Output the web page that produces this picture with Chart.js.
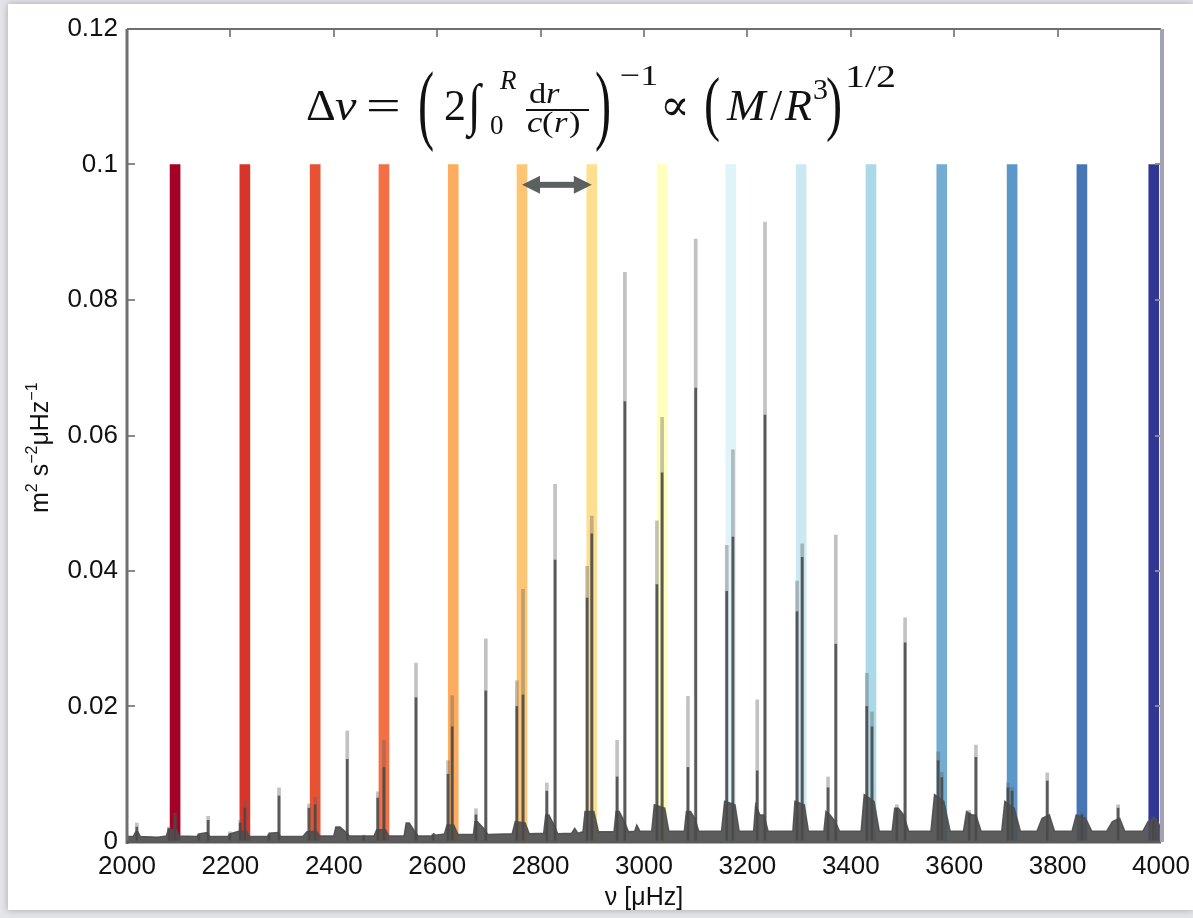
<!DOCTYPE html>
<html>
<head>
<meta charset="utf-8">
<script src="https://cdn.jsdelivr.net/npm/chart.js@4.4.1/dist/chart.umd.min.js"></script>
<style>
  html, body { margin: 0; padding: 0; width: 1193px; height: 918px; overflow: hidden; background: #e3e5e8; }
  #panel { position: absolute; left: 8px; top: 4px; width: 1185px; height: 906px; background: #fff; box-shadow: 0 0 7px rgba(0,0,0,0.28); }
  #wrap { position: absolute; left: 0; top: 0; width: 1193px; height: 918px; }
</style>
</head>
<body>
<div id="panel"></div>
<div id="wrap"><canvas id="c" width="1193" height="918"></canvas></div>
<script>
// Radial orders: large-separation markers (µHz)
const bandFreq = [2093, 2228, 2364, 2497, 2631, 2764, 2899, 3035, 3168, 3304, 3439, 3576, 3712, 3847, 3986];
const bandTop = 0.1;
const bandColors = ['#a50026', '#d7342a', '#e85233', '#f46f45', '#fdac60', '#fec674', '#fedf8f', '#ffffbd',
                    '#e0f3f8', '#cbe9f3', '#abd9e9', '#74add1', '#5d97c8', '#4676b6', '#313694'];

// Individual p-mode peaks: frequency (µHz), envelope maximum and core power (m² s⁻² µHz⁻¹)
const peakFreq = [2019, 2081, 2093, 2139, 2157, 2199, 2219, 2228, 2275, 2294, 2352, 2364, 2426, 2458, 2485, 2497,
                  2559, 2592, 2621, 2629, 2675, 2694, 2754, 2766, 2812, 2828, 2890, 2899, 2948, 2963, 3025, 3035,
                  3085, 3100, 3160, 3172, 3219, 3234, 3296, 3306, 3356, 3371, 3431, 3441, 3489, 3505, 3569, 3576,
                  3629, 3642, 3704, 3712, 3780, 3847, 3917, 3985];
const peakTop  = [0.0028, 0.0022, 0.0043, 0.0012, 0.0038, 0.0015, 0.0032, 0.0062, 0.0012, 0.0080, 0.0056, 0.0066, 0.0164, 0.0010, 0.0074, 0.0150,
                  0.0264, 0.0012, 0.0120, 0.0216, 0.0049, 0.0300, 0.0238, 0.0373, 0.0087, 0.0528, 0.0407, 0.0481, 0.0150, 0.0841, 0.0474, 0.0627,
                  0.0215, 0.0890, 0.0438, 0.0579, 0.0210, 0.0915, 0.0385, 0.0440, 0.0096, 0.0453, 0.0249, 0.0192, 0.0055, 0.0331, 0.0133, 0.0103,
                  0.0047, 0.0143, 0.0087, 0.0081, 0.0102, 0.0043, 0.0055, 0.0037];
const peakCore = [0.0022, 0.0020, 0.0038, 0.0010, 0.0032, 0.0012, 0.0028, 0.0050, 0.0010, 0.0068, 0.0050, 0.0055, 0.0122, 0.0009, 0.0065, 0.0110,
                  0.0213, 0.0010, 0.0100, 0.0170, 0.0040, 0.0223, 0.0200, 0.0217, 0.0075, 0.0416, 0.0360, 0.0455, 0.0096, 0.0650, 0.0380, 0.0545,
                  0.0110, 0.0670, 0.0370, 0.0450, 0.0105, 0.0630, 0.0340, 0.0420, 0.0080, 0.0292, 0.0200, 0.0170, 0.0050, 0.0294, 0.0120, 0.0095,
                  0.0042, 0.0125, 0.0080, 0.0075, 0.0090, 0.0040, 0.0050, 0.0033];

// Background noise floor with the broad bases of the mode clusters
const floorFreq = [2000, 2012, 2017, 2021, 2026, 2060, 2076, 2080, 2096, 2100, 2135, 2139, 2155, 2160, 2195, 2199,
                   2216, 2231, 2236, 2272, 2275, 2292, 2297, 2340, 2348, 2367, 2372, 2400, 2404, 2412, 2424, 2430,
                   2478, 2483, 2500, 2506, 2536, 2540, 2546, 2556, 2563, 2590, 2593, 2597, 2614, 2619, 2632, 2640,
                   2670, 2673, 2678, 2692, 2698, 2745, 2751, 2770, 2778, 2806, 2810, 2816, 2826, 2833, 2860, 2866,
                   2872, 2882, 2886, 2903, 2912, 2942, 2946, 2952, 2962, 2970, 2982, 2986, 2992, 3015, 3020, 3040,
                   3048, 3078, 3082, 3090, 3098, 3106, 3150, 3156, 3176, 3184, 3212, 3216, 3224, 3232, 3240, 3288,
                   3292, 3310, 3318, 3348, 3352, 3360, 3370, 3378, 3420, 3426, 3445, 3455, 3480, 3485, 3492, 3502,
                   3512, 3555, 3562, 3580, 3592, 3618, 3624, 3634, 3642, 3652, 3692, 3698, 3716, 3728, 3760, 3770,
                   3784, 3794, 3828, 3836, 3854, 3866, 3895, 3906, 3920, 3930, 3965, 3975, 3990, 4000];
const floorPower = [0.0008, 0.0008, 0.0015, 0.0015, 0.0008, 0.0007, 0.0009, 0.0018, 0.0018, 0.0009, 0.0008, 0.0012, 0.0014, 0.0008, 0.0008, 0.0012,
                    0.0016, 0.0016, 0.0008, 0.0008, 0.0013, 0.0014, 0.0008, 0.0008, 0.0015, 0.0016, 0.0009, 0.0009, 0.0022, 0.0022, 0.0014, 0.0009,
                    0.0009, 0.0018, 0.0018, 0.0009, 0.0009, 0.0028, 0.0028, 0.0016, 0.0009, 0.0009, 0.0012, 0.0010, 0.0012, 0.0025, 0.0025, 0.0011,
                    0.0011, 0.0030, 0.0030, 0.0018, 0.0011, 0.0012, 0.0030, 0.0028, 0.0012, 0.0013, 0.0040, 0.0040, 0.0025, 0.0012, 0.0013, 0.0020,
                    0.0013, 0.0015, 0.0045, 0.0045, 0.0015, 0.0015, 0.0045, 0.0045, 0.0030, 0.0015, 0.0016, 0.0025, 0.0016, 0.0016, 0.0055, 0.0050,
                    0.0016, 0.0016, 0.0045, 0.0045, 0.0035, 0.0016, 0.0016, 0.0060, 0.0055, 0.0016, 0.0016, 0.0055, 0.0040, 0.0040, 0.0016, 0.0016,
                    0.0060, 0.0055, 0.0016, 0.0016, 0.0045, 0.0040, 0.0030, 0.0016, 0.0016, 0.0070, 0.0060, 0.0016, 0.0016, 0.0050, 0.0050, 0.0040,
                    0.0016, 0.0016, 0.0070, 0.0060, 0.0016, 0.0016, 0.0045, 0.0040, 0.0040, 0.0016, 0.0016, 0.0060, 0.0050, 0.0016, 0.0016, 0.0035,
                    0.0040, 0.0016, 0.0016, 0.0040, 0.0035, 0.0016, 0.0016, 0.0030, 0.0035, 0.0016, 0.0016, 0.0030, 0.0035, 0.0020];

// Axes
const xTickValues = [2000, 2200, 2400, 2600, 2800, 3000, 3200, 3400, 3600, 3800, 4000];
const xTickLabels = ['2000', '2200', '2400', '2600', '2800', '3000', '3200', '3400', '3600', '3800', '4000'];
const yTickValues = [0, 0.02, 0.04, 0.06, 0.08, 0.1, 0.12];
const yTickLabels = ['0', '0.02', '0.04', '0.06', '0.08', '0.1', '0.12'];
const arrowLevel = 0.097;

const SANS = '"Liberation Sans", Arial, Helvetica, sans-serif';
const SERIF = '"Liberation Serif", "DejaVu Serif", serif';

// Box, inward ticks, y-axis label, Δν arrow and formula
const decorations = {
  id: 'decorations',
  afterDraw(chart) {
    const ctx = chart.ctx;
    const a = chart.chartArea;
    const xs = chart.scales.x, ys = chart.scales.y;

    ctx.save();
    // inward tick marks
    ctx.strokeStyle = '#8a8a8a';
    ctx.lineWidth = 2;
    xTickValues.forEach(v => {
      const px = Math.round(xs.getPixelForValue(v));
      ctx.beginPath(); ctx.moveTo(px, a.top); ctx.lineTo(px, a.top + 8); ctx.stroke();
    });
    yTickValues.forEach(v => {
      const py = Math.round(ys.getPixelForValue(v));
      ctx.beginPath(); ctx.moveTo(a.left, py); ctx.lineTo(a.left + 8, py); ctx.stroke();
      ctx.beginPath(); ctx.moveTo(a.right, py); ctx.lineTo(a.right - 6, py); ctx.stroke();
    });
    // box
    ctx.lineWidth = 3;
    ctx.strokeStyle = '#6e6e6e';
    ctx.beginPath(); ctx.moveTo(a.left, a.top); ctx.lineTo(a.left, a.bottom + 2); ctx.stroke();
    ctx.lineWidth = 2;
    ctx.beginPath(); ctx.moveTo(a.left, a.top); ctx.lineTo(a.right, a.top); ctx.stroke();
    ctx.strokeStyle = '#5a5a5a';
    ctx.lineWidth = 3;
    ctx.beginPath(); ctx.moveTo(a.left, a.bottom); ctx.lineTo(a.right, a.bottom); ctx.stroke();
    ctx.strokeStyle = '#a2a3b6';
    ctx.lineWidth = 4;
    ctx.beginPath(); ctx.moveTo(a.right + 1, a.top); ctx.lineTo(a.right + 1, a.bottom); ctx.stroke();

    // Δν arrow between two consecutive markers
    const x1 = xs.getPixelForValue(bandFreq[5]);
    const x2 = xs.getPixelForValue(bandFreq[6]);
    const ya = ys.getPixelForValue(arrowLevel);
    const head = 18, half = 9;
    ctx.fillStyle = '#5b6060';
    ctx.fillRect(x1 + head - 1, ya - 3, (x2 - x1) - 2 * head + 2, 6);
    ctx.beginPath(); ctx.moveTo(x1, ya); ctx.lineTo(x1 + head, ya - half); ctx.lineTo(x1 + head, ya + half); ctx.closePath(); ctx.fill();
    ctx.beginPath(); ctx.moveTo(x2, ya); ctx.lineTo(x2 - head, ya - half); ctx.lineTo(x2 - head, ya + half); ctx.closePath(); ctx.fill();

    // y-axis label: m² s⁻² µHz⁻¹
    ctx.save();
    ctx.translate(48, 513);
    ctx.rotate(-Math.PI / 2);
    ctx.fillStyle = '#111';
    ctx.textBaseline = 'alphabetic';
    let cx = 0;
    const run = (t, size, dy) => {
      ctx.font = size + 'px ' + SANS;
      ctx.fillText(t, cx, dy);
      cx += ctx.measureText(t).width;
    };
    run('m', 25, 0); run('2', 16, -11); run(' s', 25, 0); run('\u22122', 16, -11);
    run('\u03bcHz', 25, 0); run('\u22121', 16, -11);
    ctx.restore();

    // formula: Δν = (2∫₀ᴿ dr / c(r))⁻¹ ∝ (M/R³)^(1/2)
    ctx.fillStyle = '#111';
    ctx.textBaseline = 'alphabetic';
    const put = (t, x, y, size, italic, sy, sx) => {
      ctx.save();
      ctx.font = (italic ? 'italic ' : '') + size + 'px ' + SERIF;
      ctx.translate(x, y);
      ctx.scale(sx || 1, sy || 1);
      ctx.fillText(t, 0, 0);
      ctx.restore();
    };
    put('\u0394', 306, 120, 44, false, 1, 1.05);
    put('\u03bd', 335, 120, 44, true, 1, 1.1);
    put('=', 366, 120, 44, false, 1, 1.4);
    put('(', 418, 133, 44, false, 2.0, 1.1);
    put('2', 444, 120, 44, false);
    put('\u222b', 468, 124, 46, true, 1.25);
    put('0', 490, 134, 27, false);
    put('R', 500, 89, 27, true);
    put('d', 529, 103, 30, false, 1, 1.15);
    put('r', 546, 103, 30, true, 1, 1.15);
    ctx.fillRect(526, 109, 63, 2);
    put('c', 527, 132, 30, true, 1, 1.15);
    put('(', 542, 132, 30, false, 1, 1.15);
    put('r', 554, 132, 30, true, 1, 1.15);
    put(')', 569, 132, 30, false, 1, 1.15);
    put(')', 595, 133, 44, false, 2.0, 1.1);
    put('\u22121', 620, 85, 30, false, 1, 1.2);
    put('\u221d', 660, 120, 44, false);
    put('(', 704, 127, 44, false, 1.65, 1.1);
    put('M', 727, 120, 44, true, 1, 1.05);
    put('/', 770, 120, 44, false);
    put('R', 785, 120, 44, true);
    put('3', 813, 99, 30, false);
    put(')', 826, 127, 44, false, 1.65, 1.1);
    put('1/2', 845, 87, 32, false, 1, 1.25);
    ctx.restore();
  }
};

const ctx = document.getElementById('c').getContext('2d');
new Chart(ctx, {
  type: 'bar',
  data: {
    datasets: [
      {
        type: 'bar',
        label: 'orders',
        data: bandFreq.map(f => ({ x: f, y: bandTop })),
        backgroundColor: bandColors,
        barThickness: 10,
        grouped: false,
        order: 4
      },
      {
        type: 'line',
        label: 'floor',
        data: floorFreq.map((f, i) => ({ x: f, y: floorPower[i] })),
        borderColor: 'rgba(78,78,78,0.92)',
        backgroundColor: 'rgba(78,78,78,0.92)',
        borderWidth: 1.5,
        pointRadius: 0,
        tension: 0,
        fill: 'origin',
        order: 3
      },
      {
        type: 'bar',
        label: 'peak envelope',
        data: peakFreq.map((f, i) => ({ x: f, y: peakTop[i] })),
        backgroundColor: 'rgba(95,95,95,0.38)',
        barThickness: 3,
        grouped: false,
        order: 2
      },
      {
        type: 'bar',
        label: 'peak core',
        data: peakFreq.map((f, i) => ({ x: f, y: peakCore[i] })),
        backgroundColor: 'rgba(70,70,70,0.85)',
        barThickness: 2,
        grouped: false,
        order: 1
      }
    ]
  },
  options: {
    responsive: false,
    devicePixelRatio: 1,
    animation: false,
    layout: { padding: { left: 10, right: 32, top: 29, bottom: 0 } },
    plugins: { legend: { display: false }, tooltip: { enabled: false } },
    scales: {
      x: {
        type: 'linear',
        min: 2000, max: 4000,
        offset: false,
        grid: { display: false, drawTicks: false, offset: false },
        border: { display: false },
        afterBuildTicks: s => { s.ticks = xTickValues.map(v => ({ value: v })); },
        afterFit: s => { s.height = 76; s.paddingLeft = 0; s.paddingRight = 0; },
        ticks: {
          autoSkip: false, maxRotation: 0, padding: 9,
          color: '#111', font: { family: SANS, size: 26 },
          callback: v => xTickLabels[xTickValues.indexOf(v)]
        },
        title: {
          display: true, text: '\u03bd [\u03bcHz]', color: '#111',
          font: { family: SANS, size: 25 }, padding: { top: 0, bottom: 5 }
        }
      },
      y: {
        min: 0, max: 0.12,
        grid: { display: false, drawTicks: false },
        border: { display: false },
        afterBuildTicks: s => { s.ticks = yTickValues.map(v => ({ value: v })); },
        afterFit: s => { s.width = 117; s.paddingTop = 0; s.paddingBottom = 0; },
        ticks: {
          padding: 9, color: '#111', font: { family: SANS, size: 26 },
          callback: v => yTickLabels[yTickValues.indexOf(v)]
        }
      }
    }
  },
  plugins: [decorations]
});
</script>
</body>
</html>
